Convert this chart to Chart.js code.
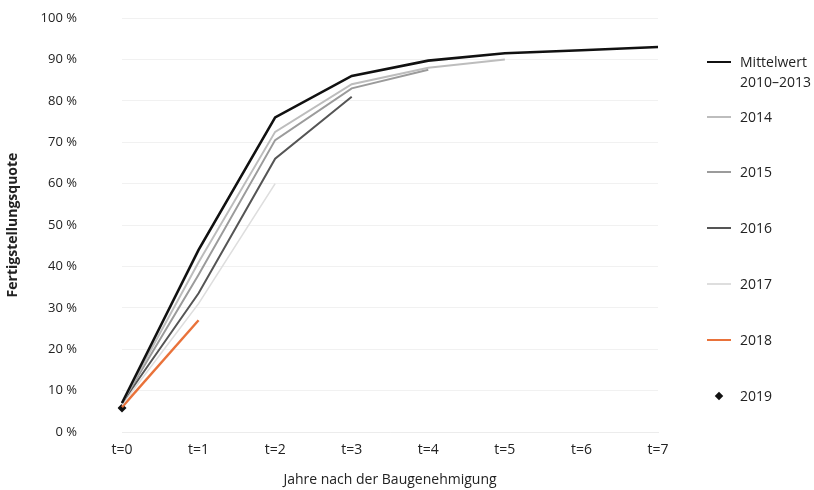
<!DOCTYPE html>
<html>
<head>
<meta charset="utf-8">
<script src="https://cdn.jsdelivr.net/npm/chart.js@4.4.1/dist/chart.umd.min.js"></script>
<style>
  html, body { margin: 0; padding: 0; background: #fff; }
  #wrap { position: relative; width: 814px; height: 490px; }
  #legend { position: absolute; left: 707px; top: 0; font-family: "Open Sans", sans-serif; font-size: 14px; color: #222; }
  .item { position: absolute; left: 0; white-space: nowrap; }
  .swatch { position: absolute; left: 0; width: 24px; }
  .txt { position: absolute; left: 33px; line-height: 20px; }
</style>
</head>
<body>
<div id="wrap">
  <canvas id="chart" width="814" height="490"></canvas>
  <div id="legend"></div>
</div>
<script>
'use strict'

// Jahre nach der Baugenehmigung
const labels = ['t=0', 't=1', 't=2', 't=3', 't=4', 't=5', 't=6', 't=7']

// Fertigstellungsquote in %
const mittelwert = [7, 44, 76, 86, 89.7, 91.5, 92.2, 93]
const y2014 = [7, 41, 72.5, 84, 88, 90, null, null]
const y2015 = [7, 38, 70.5, 83, 87.5, null, null, null]
const y2016 = [7, 33.5, 66, 81, null, null, null, null]
const y2017 = [6.5, 31, 60, null, null, null, null, null]
const y2018 = [6, 27, null, null, null, null, null, null]
const y2019 = [5.8, null, null, null, null, null, null, null]

const yTicks = [0, 10, 20, 30, 40, 50, 60, 70, 80, 90, 100]

const series = [
  { name: ['Mittelwert', '2010–2013'], data: mittelwert, color: '#111111', width: 2.6 },
  { name: ['2014'], data: y2014, color: '#bdbdbd', width: 2 },
  { name: ['2015'], data: y2015, color: '#9b9b9b', width: 2 },
  { name: ['2016'], data: y2016, color: '#555555', width: 2 },
  { name: ['2017'], data: y2017, color: '#dedede', width: 1.6 },
  { name: ['2018'], data: y2018, color: '#e9723a', width: 2.4 },
  { name: ['2019'], data: y2019, color: '#111111', width: 0, point: true }
]

const font = { family: '"Open Sans", sans-serif', size: 13 }
const xFont = { family: '"Open Sans", sans-serif', size: 14 }

const ctx = document.getElementById('chart').getContext('2d')
const chart = new Chart(ctx, {
  type: 'line',
  data: {
    labels: labels,
    datasets: series.map(s => ({
      label: s.name.join(' '),
      data: s.data,
      borderColor: s.color,
      backgroundColor: s.color,
      borderWidth: s.width,
      showLine: !s.point,
      pointRadius: s.point ? 4.5 : 0,
      pointStyle: s.point ? 'rectRot' : 'circle',
      spanGaps: false,
      tension: 0
    }))
  },
  options: {
    responsive: false,
    animation: false,
    layout: { padding: { left: 0, right: 156, top: 18, bottom: 0 } },
    plugins: { legend: { display: false }, tooltip: { enabled: false } },
    scales: {
      x: {
        offset: false,
        grid: { display: false, drawTicks: false },
        border: { display: true, color: '#ececec' },
        ticks: { color: '#222', font: xFont, padding: 10, maxRotation: 0 },
        title: { display: true, text: 'Jahre nach der Baugenehmigung', color: '#222', font: xFont, padding: { top: 4, bottom: 2 } },
        afterFit: scale => { scale.height = 58 }
      },
      y: {
        min: 0,
        max: 100,
        afterBuildTicks: scale => { scale.ticks = yTicks.map(v => ({ value: v })) },
        grid: { color: '#f1f1f1', drawTicks: true, tickLength: 37, tickColor: 'rgba(0,0,0,0)' },
        border: { display: false },
        ticks: { color: '#222', font: font, padding: 8, callback: v => v + ' %' },
        title: { display: true, text: 'Fertigstellungsquote', color: '#222', font: { family: font.family, size: 14, weight: '700' }, padding: { top: 5, bottom: 0 } },
        afterFit: scale => { scale.width = 122 }
      }
    }
  }
})

// legend on the right
const legendTops = [62, 117, 172, 228, 284, 340, 396]
const legend = document.getElementById('legend')
series.forEach((s, i) => {
  const item = document.createElement('div')
  item.className = 'item'
  item.style.top = legendTops[i] + 'px'
  const sw = document.createElement('div')
  sw.className = 'swatch'
  if (s.point) {
    sw.style.cssText = 'left:9px;top:-3px;width:6px;height:6px;background:' + s.color + ';transform:rotate(45deg)'
  } else {
    sw.style.top = (-s.width / 2) + 'px'
    sw.style.height = s.width + 'px'
    sw.style.background = s.color
  }
  const tx = document.createElement('div')
  tx.className = 'txt'
  tx.style.top = '-10px'
  tx.innerHTML = s.name.join('<br>')
  item.appendChild(sw)
  item.appendChild(tx)
  legend.appendChild(item)
})
</script>
</body>
</html>
